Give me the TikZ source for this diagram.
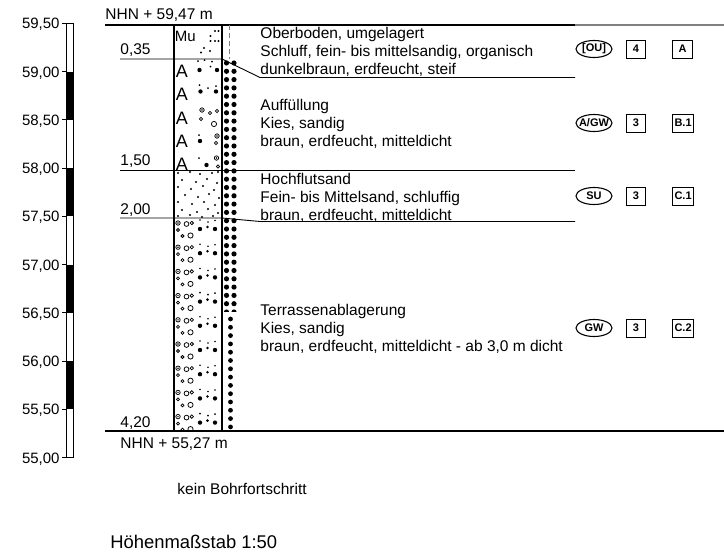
\documentclass[tikz,border=0pt]{standalone}
\usepackage{fontspec}
\setmainfont{Liberation Sans}
\usetikzlibrary{shapes.geometric}

\tikzset{
  txt/.style={anchor=base west,inner sep=0pt,font=\fontsize{15.5}{18}\selectfont},
  hgt/.style={anchor=base east,inner sep=0pt,font=\fontsize{15}{18}\selectfont},
  grp/.style={inner sep=0pt,font=\bfseries\fontsize{11}{11}\selectfont},
  cls/.style={draw,line width=1pt,minimum width=19pt,minimum height=18pt,inner sep=2pt,font=\bfseries\fontsize{11}{11}\selectfont},
  sym/.style={inner sep=0pt,font=\fontsize{18}{18}\selectfont},
  grain/.style={line width=0.75pt}
}

\newcommand\gravelcell{%
  \draw[grain] (178,5) circle (2.2pt); \fill (178,5) circle (0.8pt);
  \draw[grain] (186.5,6) circle (2.4pt);
  \draw[grain] (191.8,5) circle (1.7pt);
  \fill (200,2) circle (0.9pt); \fill (200,11) circle (2.2pt);
  \fill (208,4) circle (0.9pt); \fill (207.5,9) circle (1.4pt);
  \fill (215,2.5) circle (0.9pt); \fill (215,11) circle (2.2pt);
  \draw[grain] (178,12) circle (1.5pt);
  \draw[grain] (182.5,18) circle (1.5pt);
  \draw[grain] (190.5,17.5) circle (2.6pt);
}

\begin{document}
\begin{tikzpicture}[x=1pt,y=-1pt,line width=0.9pt]
\useasboundingbox (0,0) rectangle (724,552);

% Hoehenmassstab
\foreach \i in {1,3,5,7}
  \fill (66.5,23.3+48.27*\i) rectangle (73.5,23.3+48.27*\i+48.27);
\draw[line width=1pt] (66.5,23.3) rectangle (73.5,457.7);
\foreach \lab [count=\i from 0, evaluate=\i as \yy using 23.3+48.27*\i] in
    {{59,50},{59,00},{58,50},{58,00},{57,50},{57,00},{56,50},{56,00},{55,50},{55,00}} {
  \draw (62,\yy) -- (66.5,\yy);
  \node[hgt] (h\i) at (60,\yy+5.5) {\lab};
}

% Gelaende und Endteufe
\coordinate (top0) at (105,25);
\coordinate (top1) at (575,25);
\coordinate (top2) at (724,25);
\coordinate (end0) at (105,431);
\coordinate (end1) at (724,431);
\draw[line width=1.1pt] (top0) -- (top1);
\draw[line width=1.1pt,gray] (top1) -- (top2);
\draw[line width=1.1pt] (end0) -- (end1);
\node[txt] (nhnTop) at (105,19.5) {NHN + 59,47 m};
\node[txt] (nhnEnd) at (120,448) {NHN + 55,27 m};

% Schichtgrenzen
\coordinate (a0) at (120,59);  \coordinate (a1) at (222,59);
\coordinate (a2) at (260,77.5); \coordinate (a3) at (575,77.5);
\coordinate (b0) at (120,170); \coordinate (b1) at (575,170);
\coordinate (c0) at (120,218); \coordinate (c1) at (222,218);
\coordinate (c2) at (260,221.5); \coordinate (c3) at (575,221.5);
\draw (a0) -- (a1) -- (a2) -- (a3);
\draw (b0) -- (b1);
\draw (c0) -- (c1) -- (c2) -- (c3);
\node[txt] (d1) at (120,54.5) {0,35};
\node[txt] (d2) at (120,165.5) {1,50};
\node[txt] (d3) at (120,214) {2,00};
\node[txt] (d4) at (120,427) {4,20};

% Mutterboden
\begin{scope}
  \clip (174,25) rectangle (222,59);
  \node[sym,anchor=base west,font=\fontsize{15}{15}\selectfont] (mu) at (174.5,41.5) {Mu};
  \foreach \p in {(215,31),(218.5,31),(210.5,36),(210.5,41),(215,41),(218.5,41),(204,48),(201,52.5),(210,51)}
    \fill \p circle (1.2pt);
\end{scope}

% Auffuellung
\begin{scope}
  \clip (174,59) rectangle (222,170);
  \foreach \i in {0,...,4}
    \node[sym,anchor=base] (aa\i) at (182,77.5+23.3*\i) {A};
  \foreach \p in {(198,61),(204.5,60),(212,61.5),(210.5,66.5),(199.5,85),(208,88),(216,86),(199,135),(199,158)}
    \fill \p circle (1pt);
  \foreach \p in {(199.5,70),(217,70),(200.5,91.5),(216,91.5),(200,141),(206.5,165)}
    \fill \p circle (2.2pt);
  \foreach \p/\r in {(202,110)/2.2,(210,113)/1.7,(217,111)/1.7,(201,119)/1.6,(214,124)/2.6,(217,136)/2.2,(216,143)/1.6,(216.5,158)/2.2,(218,166.5)/1.6}
    \draw[grain] \p circle (\r pt);
  \foreach \p in {(202,110),(217,136),(216.5,158)}
    \fill \p circle (0.8pt);
\end{scope}

% Hochflutsand
\begin{scope}
  \clip (174,170) rectangle (222,218);
  \foreach \p in {(178,173),(190,172),(200,174),(212,173),(218,172),
                  (182,180),(196,182),(207,179),(217,183),
                  (178,187),(191,189),(203,186),(214,190),
                  (185,195),(198,197),(209,194),(219,198),
                  (178,202),(192,204),(204,202),(215,205),
                  (182,210),(197,212),(208,209),(218,213),
                  (178,216),(190,215),(202,217),(213,216)}
    \fill \p circle (1.2pt);
\end{scope}

% Terrassenkies
\begin{scope}
  \clip (174,218) rectangle (222,431);
  \foreach \i in {0,...,9} {
    \begin{scope}[shift={(0,218+24.2*\i)}]
      \gravelcell
    \end{scope}
  }
\end{scope}

% Bohrsaeule
\draw[line width=1.3pt] (174,25) rectangle (222,431);
\draw[gray,line width=1pt,dash pattern=on 5pt off 3pt] (229,25) -- (229,59);
\begin{scope}
  \clip (223,59) rectangle (238,311);
  \foreach \i in {0,...,30} {
    \fill (226.5,63+8.3*\i) circle (2.6pt);
    \fill (234,63+8.3*\i) circle (2.6pt);
  }
\end{scope}
\foreach \i in {0,...,13}
  \fill (230.5,319+8.3*\i) circle (2.4pt);

% Schichtbeschreibung
\foreach \t [count=\i] in {{Oberboden, umgelagert},{Schluff, fein- bis mittelsandig, organisch},{dunkelbraun, erdfeucht, steif}}
  \node[txt] (ob\i) at (260,20+18*\i) {\t};
\foreach \t [count=\i] in {{Auffüllung},{Kies, sandig},{braun, erdfeucht, mitteldicht}}
  \node[txt] (auf\i) at (260,92.5+18*\i) {\t};
\foreach \t [count=\i] in {{Hochflutsand},{Fein- bis Mittelsand, schluffig},{braun, erdfeucht, mitteldicht}}
  \node[txt] (hf\i) at (260,166+18*\i) {\t};
\foreach \t [count=\i] in {{Terrassenablagerung},{Kies, sandig},{braun, erdfeucht, mitteldicht - ab 3,0 m dicht}}
  \node[txt] (ter\i) at (260,297+18*\i) {\t};

% Bodengruppe, Klasse, Homogenbereich
\foreach \g/\k/\b/\y [count=\i] in {{[OU]}/4/A/49,{A/GW}/3/B.1/123,SU/3/C.1/196,GW/3/C.2/328} {
  \node[grp] (grp\i) at (594,\y) {\g};
  \draw[line width=1.1pt] (grp\i.center) ellipse [x radius=18pt, y radius=8.5pt];
  \node[cls] (kl\i) at (636,\y) {\k};
  \node[cls,anchor=west,minimum width=20pt] (hb\i) at (672,\y) {\b};
}

\node[txt] (kein) at (177,494) {kein Bohrfortschritt};
\node[txt,font=\fontsize{18.4}{20}\selectfont] (mass) at (110,548.5) {Höhenmaßstab 1:50};
\end{tikzpicture}
\end{document}
